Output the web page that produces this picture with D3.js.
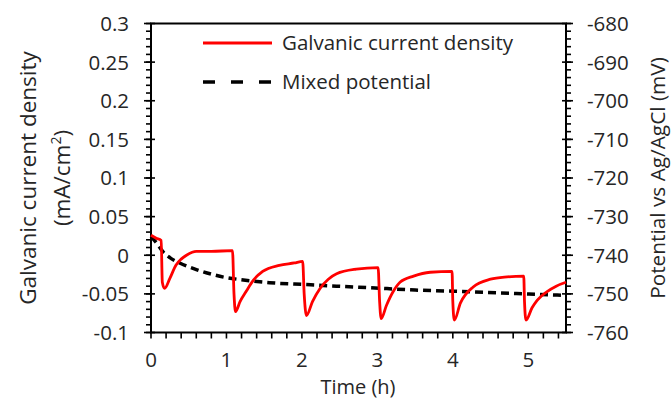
<!DOCTYPE html>
<html>
<head>
<meta charset="utf-8">
<script src="https://cdn.jsdelivr.net/npm/d3@7"></script>
<style>
  body { margin: 0; background: #fff; }
  text { font-family: "Open Sans", sans-serif; fill: #262626; }
</style>
</head>
<body>
<svg id="chart" width="672" height="401"></svg>
<script>
// galvanic current density (mA/cm2) vs time (h)
var curT = [0, 0.07, 0.135, 0.15, 0.18, 0.25, 0.33, 0.4, 0.47, 0.6, 0.8, 1.08, 1.1, 1.12, 1.18, 1.26, 1.36, 1.48, 1.7, 1.9, 2.01,
  2.03, 2.06, 2.14, 2.24, 2.35, 2.46, 2.72, 3.01, 3.03, 3.05, 3.12, 3.21, 3.3, 3.48, 3.7, 3.99, 4.0, 4.02, 4.1, 4.27, 4.5,
  4.72, 4.94, 4.95, 4.97, 5.05, 5.12, 5.25, 5.37, 5.5];
var curV = [0.026, 0.022, 0.019, -0.035, -0.043, -0.03, -0.013, -0.005, 0.0, 0.005, 0.005, 0.006, -0.05, -0.073, -0.06, -0.047,
  -0.032, -0.021, -0.013, -0.01, -0.008, -0.05, -0.078, -0.06, -0.043, -0.031, -0.024, -0.018, -0.016, -0.06, -0.082, -0.065,
  -0.047, -0.035, -0.027, -0.022, -0.021, -0.06, -0.084, -0.062, -0.041, -0.031, -0.028, -0.027, -0.06, -0.084, -0.068,
  -0.058, -0.047, -0.04, -0.035];

// mixed potential (mV vs Ag/AgCl)
var potT = [0, 0.08, 0.15, 0.25, 0.38, 0.6, 0.82, 1.0, 1.18, 1.57, 2.06, 2.46, 2.9, 3.5, 4.0, 4.8, 5.5];
var potV = [-735.1, -737.0, -738.9, -740.6, -742.0, -743.7, -745.0, -745.8, -746.3, -747.1, -747.6, -748.0, -748.4,
  -749.0, -749.3, -749.9, -750.4];

var xTicks = [0, 1, 2, 3, 4, 5];
var yLeftTicks = [-0.1, -0.05, 0, 0.05, 0.1, 0.15, 0.2, 0.25, 0.3];
var yRightTicks = [-760, -750, -740, -730, -720, -710, -700, -690, -680];

var L = 151, R = 566, T = 23.5, B = 332.5;
var svg = d3.select("#chart");

var x = d3.scaleLinear().domain([0, 5.5]).range([L, R]);
var y = d3.scaleLinear().domain([-0.1, 0.3]).range([B, T]);
var y2 = d3.scaleLinear().domain([-760, -680]).range([B, T]);

// minor ticks
var xMinor = d3.range(0, 5.5001, 0.2).map(function(d) { return +d.toFixed(2); });
var yMinor = d3.range(-0.1, 0.3001, 0.01).map(function(d) { return +d.toFixed(3); });
var y2Minor = d3.range(-760, -679, 2);

var g = svg.append("g").attr("stroke", "#000").attr("stroke-width", 1.6);
g.selectAll(".xm").data(xMinor).enter().append("line")
  .attr("x1", function(d) { return x(d); }).attr("x2", function(d) { return x(d); })
  .attr("y1", B).attr("y2", B + 6);
g.selectAll(".ym").data(yMinor).enter().append("line")
  .attr("x1", L - 5).attr("x2", L)
  .attr("y1", function(d) { return y(d); }).attr("y2", function(d) { return y(d); });
g.selectAll(".yM").data(yLeftTicks).enter().append("line")
  .attr("x1", L - 7).attr("x2", L + 4)
  .attr("y1", function(d) { return y(d); }).attr("y2", function(d) { return y(d); });
g.selectAll(".y2m").data(y2Minor).enter().append("line")
  .attr("x1", R).attr("x2", R + 5)
  .attr("y1", function(d) { return y2(d); }).attr("y2", function(d) { return y2(d); });
g.selectAll(".y2M").data(yRightTicks).enter().append("line")
  .attr("x1", R - 4).attr("x2", R + 7)
  .attr("y1", function(d) { return y2(d); }).attr("y2", function(d) { return y2(d); });

// frame
svg.append("path")
  .attr("d", "M" + L + "," + T + "H" + R + "V" + B + "H" + L + "Z")
  .attr("fill", "none").attr("stroke", "#000").attr("stroke-width", 2);

// tick labels
svg.selectAll(".xl").data(xTicks).enter().append("text")
  .attr("x", function(d) { return x(d); }).attr("y", 366.5)
  .attr("text-anchor", "middle").attr("font-size", 20.5)
  .text(function(d) { return d; });
svg.selectAll(".yl").data(yLeftTicks).enter().append("text")
  .attr("x", 129).attr("y", function(d) { return y(d); }).attr("dy", "0.36em")
  .attr("text-anchor", "end").attr("font-size", 20.5)
  .text(function(d) { return d; });
svg.selectAll(".y2l").data(yRightTicks).enter().append("text")
  .attr("x", 587).attr("y", function(d) { return y2(d); }).attr("dy", "0.36em")
  .attr("text-anchor", "start").attr("font-size", 20.5)
  .text(function(d) { return d; });

// axis titles
svg.append("text").attr("x", 358).attr("y", 394).attr("text-anchor", "middle")
  .attr("font-size", 20).text("Time (h)");
svg.append("text").attr("transform", "translate(36,178) rotate(-90)")
  .attr("text-anchor", "middle").attr("font-size", 22.5).text("Galvanic current density");
var t2 = svg.append("text").attr("transform", "translate(70,178) rotate(-90)")
  .attr("text-anchor", "middle").attr("font-size", 22.5);
t2.append("tspan").text("(mA/cm");
t2.append("tspan").attr("font-size", 14).attr("dy", -9).text("2");
t2.append("tspan").attr("dy", 9).text(")");
svg.append("text").attr("transform", "translate(665,178) rotate(-90)")
  .attr("text-anchor", "middle").attr("font-size", 20.8).text("Potential vs Ag/AgCl (mV)");

// series
var cur = curT.map(function(t, i) { return [t, curV[i]]; });
var pot = potT.map(function(t, i) { return [t, potV[i]]; });

svg.append("path").datum(pot)
  .attr("d", d3.line().x(function(d) { return x(d[0]); }).y(function(d) { return y2(d[1]); }).curve(d3.curveMonotoneX))
  .attr("fill", "none").attr("stroke", "#000").attr("stroke-width", 3.5).attr("stroke-dasharray", "8,5");

svg.append("path").datum(cur)
  .attr("d", d3.line().x(function(d) { return x(d[0]); }).y(function(d) { return y(d[1]); }).curve(d3.curveMonotoneX))
  .attr("fill", "none").attr("stroke", "#ff0000").attr("stroke-width", 2.8).attr("stroke-linejoin", "round");

// legend
svg.append("line").attr("x1", 203).attr("x2", 272).attr("y1", 43).attr("y2", 43)
  .attr("stroke", "#ff0000").attr("stroke-width", 2.8);
svg.append("text").attr("x", 282).attr("y", 43).attr("dy", "0.36em").attr("font-size", 20.5).text("Galvanic current density");
svg.append("line").attr("x1", 203).attr("x2", 272).attr("y1", 82).attr("y2", 82)
  .attr("stroke", "#000").attr("stroke-width", 3.5).attr("stroke-dasharray", "12,16");
svg.append("text").attr("x", 282).attr("y", 82).attr("dy", "0.36em").attr("font-size", 20.5).text("Mixed potential");
</script>
</body>
</html>
